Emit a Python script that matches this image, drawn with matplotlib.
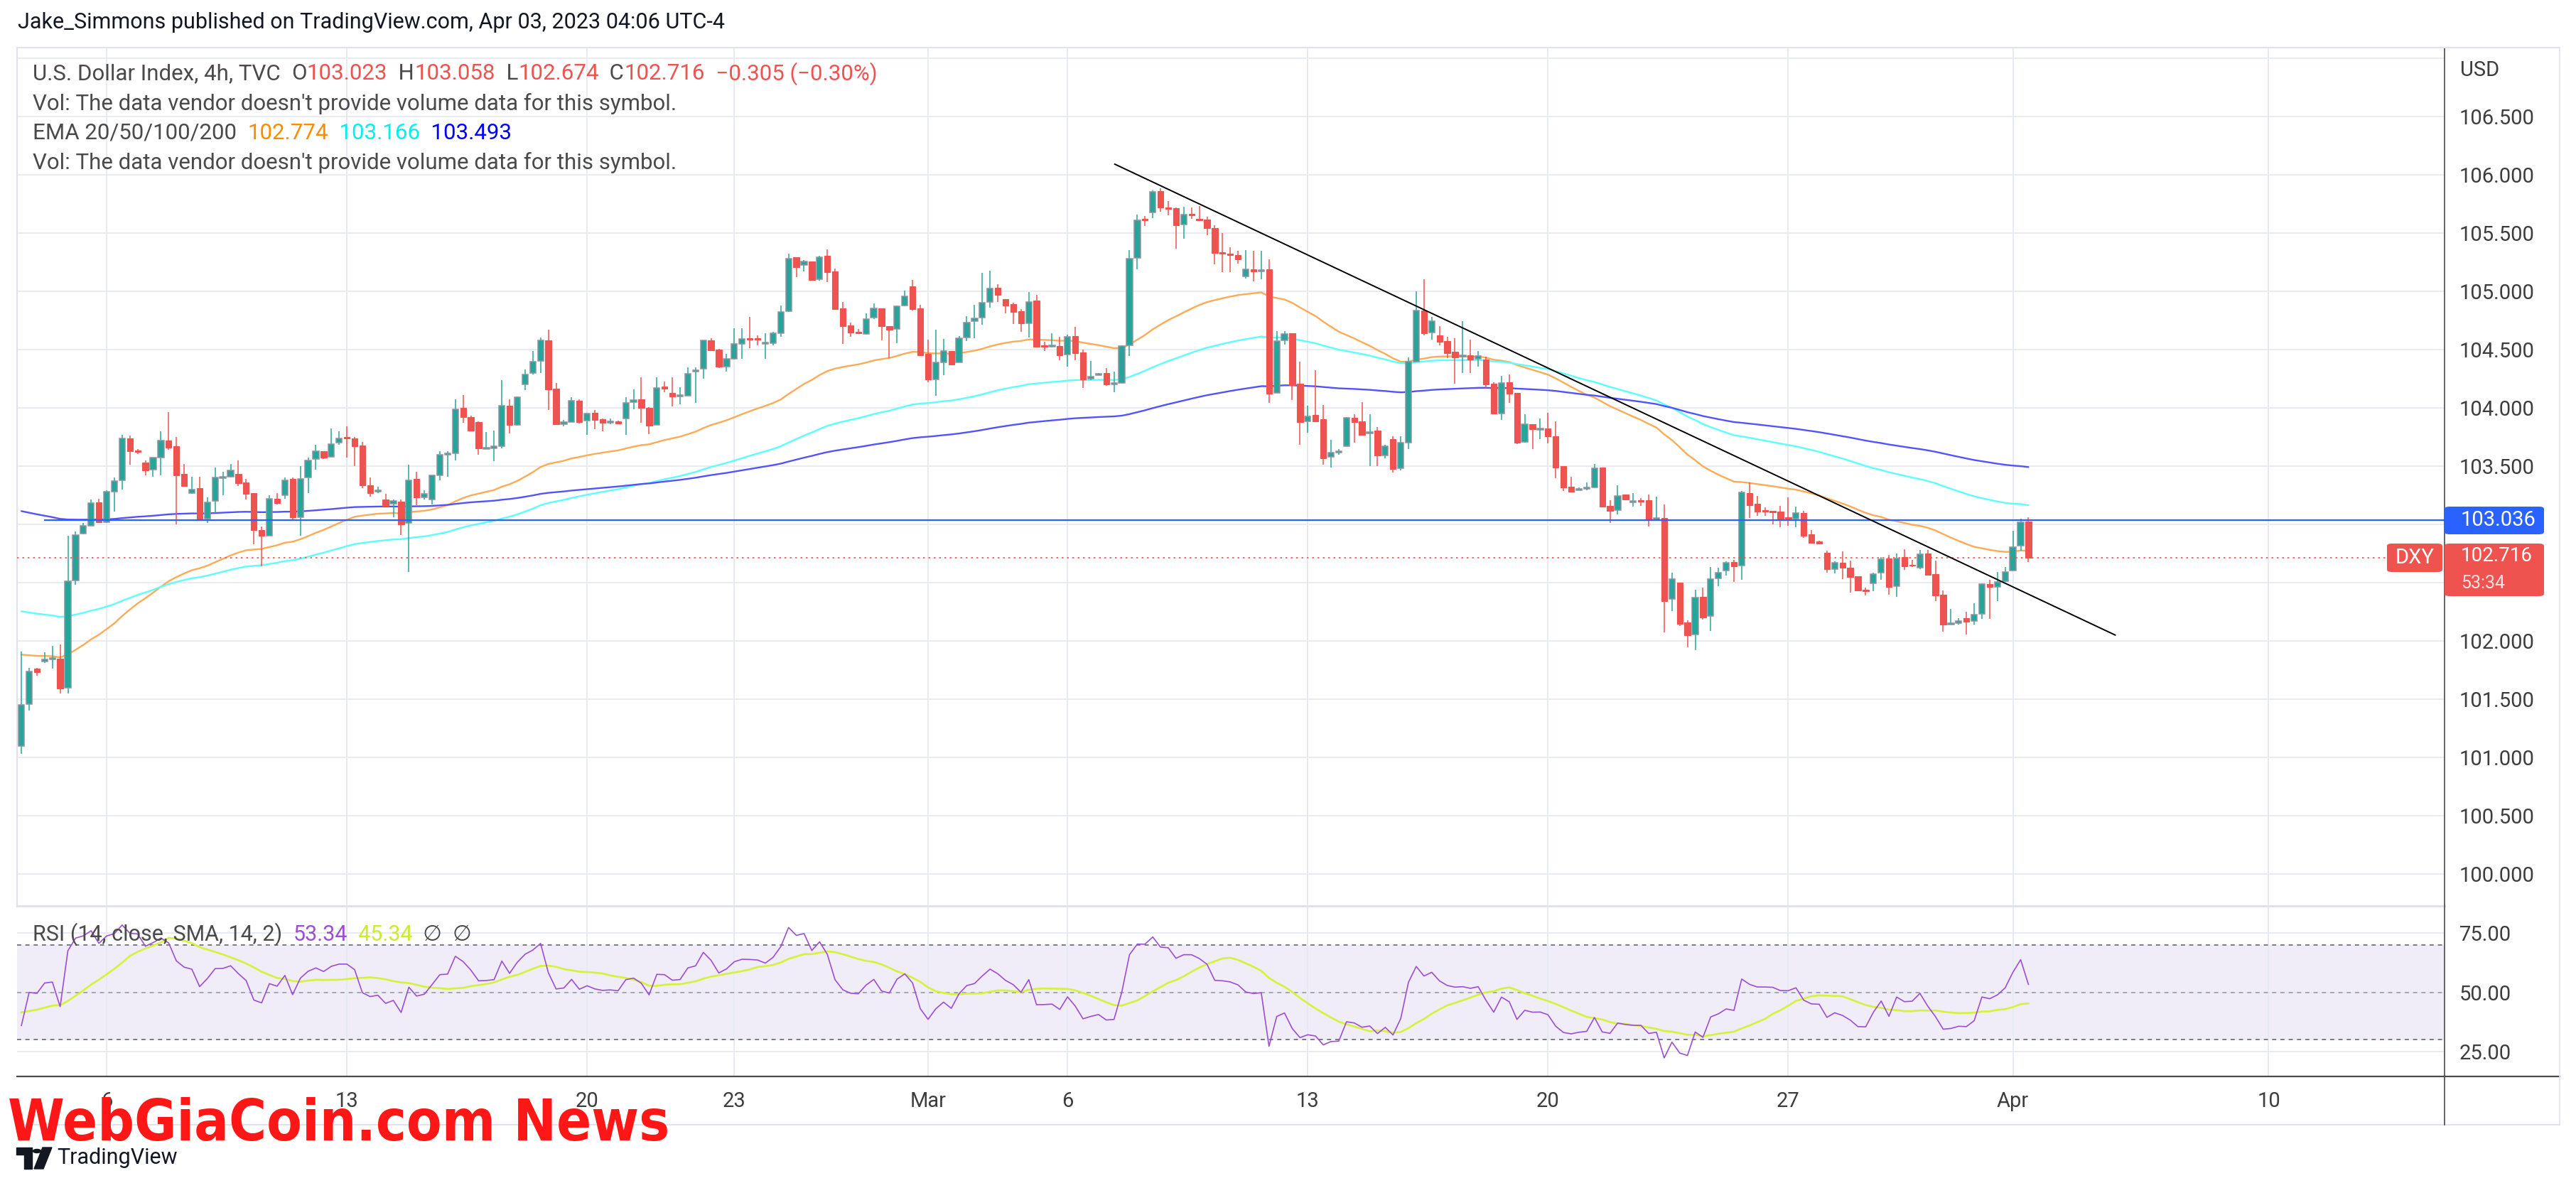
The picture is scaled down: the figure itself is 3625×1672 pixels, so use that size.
import numpy as np
import pandas as pd
import matplotlib
matplotlib.use("Agg")
import matplotlib.pyplot as plt
from matplotlib.lines import Line2D
from matplotlib.patches import FancyBboxPatch, Polygon, Circle
from matplotlib import font_manager

plt.rcParams['font.family'] = ['Roboto', 'DejaVu Sans']

# ---- DXY 4h candles, bar 0 ~ Feb 2, bar 259 = Apr 3 ----
opens = [
    101.10, 101.46, 101.76, 101.82, 101.84, 101.85, 101.60, 102.52, 102.92, 102.99,
    103.19, 103.02, 103.28, 103.38, 103.74, 103.635, 103.53, 103.47, 103.57, 103.72,
    103.67, 103.43, 103.27, 103.31, 103.05, 103.20, 103.395, 103.405, 103.43, 103.36,
    103.27, 102.95, 102.90, 103.22, 103.25, 103.39, 103.06, 103.40, 103.56, 103.63,
    103.58, 103.70, 103.75, 103.74, 103.675, 103.335, 103.285, 103.215, 103.175, 103.195,
    103.01, 103.39, 103.23, 103.215, 103.42, 103.60, 103.61, 104.00, 103.92, 103.88,
    103.65, 103.65, 103.67, 104.02, 103.855, 104.20, 104.295, 104.40, 104.58, 104.165,
    103.86, 103.88, 104.06, 103.89, 103.955, 103.90, 103.875, 103.885, 103.91, 104.05,
    104.07, 104.00, 103.85, 104.18, 104.125, 104.10, 104.105, 104.31, 104.335, 104.58,
    104.50, 104.355, 104.42, 104.55, 104.598, 104.598, 104.553, 104.557, 104.642, 104.827,
    105.29, 105.224, 105.258, 105.10, 105.304, 105.168, 104.854, 104.706, 104.651, 104.635,
    104.771, 104.854, 104.702, 104.673, 104.876, 105.04, 104.852, 104.462, 104.245, 104.387,
    104.485, 104.391, 104.60, 104.746, 104.773, 104.905, 105.03, 104.935, 104.888, 104.83,
    104.726, 104.919, 104.529, 104.531, 104.529, 104.454, 104.615, 104.473, 104.25, 104.284,
    104.296, 104.203, 104.211, 104.533, 105.286, 105.621, 105.675, 105.856, 105.72, 105.71,
    105.57, 105.661, 105.621, 105.615, 105.54, 105.335, 105.325, 105.313, 105.126, 105.191,
    105.175, 105.187, 104.13, 104.577, 104.638, 104.205, 103.882, 103.937, 103.90, 103.577,
    103.618, 103.673, 103.911, 103.886, 103.782, 103.805, 103.591, 103.734, 103.484, 103.703,
    104.398, 104.837, 104.648, 104.624, 104.571, 104.48, 104.443, 104.449, 104.419, 104.415,
    104.205, 103.951, 104.221, 104.126, 103.707, 103.86, 103.815, 103.825, 103.758, 103.50,
    103.321, 103.297, 103.31, 103.317, 103.49, 103.159, 103.124, 103.256, 103.195, 103.207,
    103.207, 103.045, 103.055, 102.359, 102.50, 102.158, 102.056, 102.379, 102.213, 102.538,
    102.604, 102.675, 102.649, 103.268, 103.177, 103.12, 103.112, 103.11, 103.055, 103.051,
    103.099, 102.913, 102.852, 102.756, 102.618, 102.673, 102.629, 102.553, 102.436, 102.491,
    102.588, 102.71, 102.472, 102.72, 102.653, 102.625, 102.75, 102.572, 102.395, 102.148,
    102.15, 102.196, 102.172, 102.233, 102.486, 102.466, 102.513, 102.602, 102.815, 103.023,
]
highs = [
    101.91, 101.77, 101.77, 101.90, 101.96, 101.97, 102.90, 102.94, 103.01, 103.21,
    103.22, 103.29, 103.40, 103.77, 103.76, 103.645, 103.55, 103.57, 103.80, 103.96,
    103.75, 103.52, 103.41, 103.405, 103.23, 103.49, 103.45, 103.52, 103.55, 103.39,
    103.27, 102.98, 103.25, 103.27, 103.40, 103.40, 103.50, 103.57, 103.68, 103.63,
    103.82, 103.80, 103.84, 103.75, 103.705, 103.40, 103.32, 103.26, 103.215, 103.21,
    103.51, 103.45, 103.29, 103.42, 103.63, 103.63, 104.07, 104.11, 103.93, 103.885,
    103.79, 103.805, 104.24, 104.075, 104.095, 104.33, 104.485, 104.60, 104.67, 104.21,
    103.895, 104.09, 104.07, 103.955, 103.98, 103.91, 103.905, 103.89, 104.09, 104.16,
    104.26, 104.005, 104.26, 104.225, 104.26, 104.175, 104.345, 104.345, 104.58, 104.595,
    104.505, 104.465, 104.68, 104.68, 104.78, 104.62, 104.64, 104.65, 104.876, 105.32,
    105.293, 105.268, 105.258, 105.303, 105.357, 105.193, 104.909, 104.73, 104.675, 104.811,
    104.897, 104.854, 104.702, 104.876, 105.006, 105.097, 104.884, 104.584, 104.671, 104.59,
    104.485, 104.615, 104.783, 104.884, 105.158, 105.178, 105.063, 104.935, 104.90, 104.844,
    104.996, 104.966, 104.566, 104.637, 104.608, 104.625, 104.696, 104.50, 104.40, 104.30,
    104.34, 104.312, 104.535, 105.351, 105.655, 105.645, 105.862, 105.882, 105.773, 105.716,
    105.722, 105.72, 105.73, 105.639, 105.564, 105.499, 105.377, 105.346, 105.354, 105.346,
    105.346, 105.272, 104.659, 104.659, 104.638, 104.394, 104.018, 104.323, 104.024, 103.724,
    103.648, 103.923, 103.947, 104.049, 103.947, 103.835, 103.683, 103.758, 103.754, 104.431,
    105.00, 105.102, 104.78, 104.699, 104.608, 104.598, 104.744, 104.587, 104.486, 104.439,
    104.221, 104.276, 104.283, 104.126, 103.947, 103.86, 103.907, 103.957, 103.882, 103.50,
    103.409, 103.317, 103.358, 103.516, 103.49, 103.205, 103.337, 103.256, 103.266, 103.227,
    103.258, 103.237, 103.17, 102.584, 102.50, 102.178, 102.44, 102.456, 102.633, 102.629,
    102.685, 102.696, 103.288, 103.359, 103.242, 103.146, 103.112, 103.156, 103.231, 103.152,
    103.116, 102.949, 102.862, 102.771, 102.683, 102.765, 102.689, 102.553, 102.456, 102.588,
    102.72, 102.74, 102.75, 102.785, 102.693, 102.781, 102.781, 102.689, 102.432, 102.273,
    102.196, 102.249, 102.324, 102.491, 102.523, 102.594, 102.633, 102.943, 103.049, 103.058,
]
lows = [
    101.03, 101.40, 101.70, 101.81, 101.76, 101.55, 101.55, 102.48, 102.915, 102.99,
    103.01, 103.01, 103.11, 103.30, 103.51, 103.605, 103.42, 103.405, 103.42, 103.64,
    103.00, 103.32, 103.26, 103.03, 103.01, 103.10, 103.25, 103.40, 103.33, 103.21,
    102.83, 102.64, 102.90, 103.17, 103.22, 103.04, 102.90, 103.27, 103.47, 103.56,
    103.58, 103.68, 103.57, 103.50, 103.31, 103.24, 103.27, 103.16, 103.06, 102.91,
    102.59, 103.165, 103.21, 103.17, 103.38, 103.41, 103.55, 103.87, 103.80, 103.60,
    103.645, 103.54, 103.65, 103.78, 103.845, 104.15, 104.285, 104.295, 103.98, 103.86,
    103.84, 103.88, 103.865, 103.765, 103.815, 103.80, 103.86, 103.86, 103.765, 103.99,
    103.87, 103.775, 103.85, 104.135, 104.01, 104.03, 104.10, 104.04, 104.25, 104.495,
    104.34, 104.31, 104.415, 104.42, 104.51, 104.537, 104.42, 104.537, 104.608, 104.825,
    105.122, 105.167, 105.095, 105.09, 105.081, 104.844, 104.55, 104.61, 104.637, 104.625,
    104.763, 104.58, 104.424, 104.556, 104.872, 104.834, 104.442, 104.221, 104.103, 104.28,
    104.367, 104.391, 104.57, 104.596, 104.712, 104.86, 104.905, 104.809, 104.716, 104.649,
    104.604, 104.525, 104.489, 104.52, 104.406, 104.353, 104.406, 104.17, 104.239, 104.28,
    104.189, 104.134, 104.205, 104.442, 105.185, 105.56, 105.629, 105.68, 105.651, 105.367,
    105.452, 105.62, 105.609, 105.483, 105.233, 105.162, 105.162, 105.238, 105.11, 105.085,
    105.10, 104.043, 104.13, 104.54, 104.069, 103.683, 103.785, 103.886, 103.51, 103.49,
    103.60, 103.673, 103.699, 103.768, 103.50, 103.50, 103.567, 103.445, 103.463, 103.646,
    104.398, 104.622, 104.587, 104.537, 104.425, 104.207, 104.297, 104.297, 104.354, 104.171,
    103.951, 103.896, 104.043, 103.687, 103.703, 103.646, 103.734, 103.693, 103.394, 103.287,
    103.276, 103.293, 103.293, 103.313, 103.154, 103.012, 103.083, 103.205, 103.154, 103.156,
    102.984, 103.035, 102.07, 102.253, 102.127, 101.943, 101.918, 102.182, 102.085, 102.472,
    102.558, 102.507, 102.527, 103.055, 103.071, 103.071, 102.998, 102.978, 102.99, 102.978,
    102.882, 102.832, 102.832, 102.588, 102.578, 102.533, 102.415, 102.426, 102.389, 102.426,
    102.523, 102.399, 102.375, 102.608, 102.633, 102.618, 102.558, 102.344, 102.081, 102.141,
    102.141, 102.054, 102.141, 102.188, 102.188, 102.344, 102.507, 102.602, 102.775, 102.674,
]
closes = [
    101.45, 101.74, 101.73, 101.84, 101.85, 101.59, 102.51, 102.91, 102.99, 103.185,
    103.02, 103.28, 103.37, 103.74, 103.63, 103.62, 103.46, 103.57, 103.72, 103.66,
    103.42, 103.33, 103.30, 103.035, 103.19, 103.40, 103.405, 103.46, 103.355, 103.26,
    102.95, 102.90, 103.22, 103.18, 103.38, 103.06, 103.39, 103.55, 103.63, 103.575,
    103.69, 103.74, 103.74, 103.67, 103.335, 103.27, 103.29, 103.16, 103.20, 103.00,
    103.38, 103.23, 103.26, 103.42, 103.60, 103.61, 103.99, 103.92, 103.805, 103.65,
    103.655, 103.67, 104.02, 103.855, 104.09, 104.285, 104.395, 104.58, 104.16, 103.86,
    103.88, 104.06, 103.88, 103.95, 103.895, 103.87, 103.878, 103.865, 104.04, 104.065,
    104.00, 103.845, 104.17, 104.165, 104.095, 104.105, 104.29, 104.325, 104.58, 104.495,
    104.35, 104.42, 104.545, 104.59, 104.588, 104.583, 104.556, 104.64, 104.82, 105.28,
    105.207, 105.254, 105.095, 105.293, 105.164, 104.848, 104.698, 104.645, 104.637, 104.763,
    104.85, 104.698, 104.669, 104.87, 104.955, 104.844, 104.452, 104.241, 104.387, 104.485,
    104.373, 104.594, 104.732, 104.767, 104.899, 105.026, 104.966, 104.88, 104.824, 104.722,
    104.909, 104.525, 104.527, 104.533, 104.448, 104.61, 104.467, 104.241, 104.27, 104.292,
    104.199, 104.205, 104.529, 105.28, 105.609, 105.609, 105.854, 105.716, 105.706, 105.564,
    105.655, 105.655, 105.609, 105.54, 105.331, 105.325, 105.31, 105.274, 105.187, 105.167,
    105.177, 104.12, 104.573, 104.634, 104.195, 103.88, 103.927, 103.886, 103.567, 103.616,
    103.622, 103.911, 103.88, 103.768, 103.785, 103.591, 103.673, 103.476, 103.703, 104.398,
    104.837, 104.638, 104.744, 104.567, 104.47, 104.435, 104.445, 104.415, 104.445, 104.201,
    103.951, 104.215, 104.12, 103.699, 103.86, 103.815, 103.817, 103.758, 103.486, 103.317,
    103.28, 103.30, 103.311, 103.48, 103.154, 103.118, 103.246, 103.215, 103.197, 103.197,
    103.039, 103.051, 102.344, 102.533, 102.148, 102.046, 102.371, 102.202, 102.533, 102.588,
    102.673, 102.639, 103.272, 103.166, 103.112, 103.112, 103.106, 103.051, 103.049, 103.095,
    102.903, 102.842, 102.836, 102.614, 102.669, 102.625, 102.547, 102.43, 102.426, 102.574,
    102.70, 102.466, 102.71, 102.639, 102.645, 102.744, 102.564, 102.389, 102.141, 102.149,
    102.172, 102.166, 102.223, 102.486, 102.462, 102.507, 102.592, 102.805, 103.018, 102.716,
]

# x axis: bar index of each date gridline
date_ticks = [11, 42, 73, 92, 117, 135, 166, 197, 228, 257, 290]
date_labels = ['6', '13', '20', '23', 'Mar', '6', '13', '20', '27', 'Apr', '10']

price_ticks = [100.0, 100.5, 101.0, 101.5, 102.0, 102.5, 103.0, 103.5,
               104.0, 104.5, 105.0, 105.5, 106.0, 106.5, 107.0]
price_labels = ['100.000', '100.500', '101.000', '101.500', '102.000', '102.500',
                '103.000', '103.500', '104.000', '104.500', '105.000', '105.500',
                '106.000', '106.500', '']

# EMAs: periods, value just before bar 0, colours
ema_periods = [50, 100, 200]
ema_seeds = [101.90, 102.27, 103.13]
ema_colors = ['#FFAA55', '#5CFFFF', '#5252FF']

# RSI(14) smoothing state before bar 0 and SMA(14) history
rsi_seed_gain = 0.004
rsi_seed_loss = 0.055
rsi_ma_seed = 42.0
rsi_ticks = [25, 50, 75]
rsi_labels = ['25.00', '50.00', '75.00']

# drawings
level_price = 103.036
level_start = 3
trend_x = [141.1, 270.2]
trend_y = [106.09, 102.05]
last_price = 102.716
countdown = '53:34'

GREEN = '#26A69A'
RED = '#EF5350'
BORDER = '#8F939E'
GRID = '#E6EBF1'
AXTXT = '#3D3D3D'

W_PX, H_PX = 3625, 1672


def fx(px):
    return px / W_PX


def fy(py):
    return 1 - py / H_PX


fig = plt.figure(figsize=(W_PX / 100, H_PX / 100), dpi=100)
fig.patch.set_facecolor('white')

pane_l, pane_r = 24, 3440
ax = fig.add_axes([fx(pane_l), fy(1275), fx(pane_r) - fx(pane_l), fy(67) - fy(1275)])
ax2 = fig.add_axes([fx(pane_l), fy(1515), fx(pane_r) - fx(pane_l), fy(1275) - fy(1515)])

xlim = (-0.56, 312.7)
o = np.array(opens)
h = np.array(highs)
l = np.array(lows)
c = np.array(closes)
x = np.arange(len(c))

# ---- main pane ----
ax.set_xlim(*xlim)
ax.set_ylim(99.726, 107.09)
for sp in ['right', 'bottom']:
    ax.spines[sp].set_visible(False)
for sp in ['top', 'left']:
    ax.spines[sp].set_color('#E0E3EB')
    ax.spines[sp].set_linewidth(1.5)
ax.set_xticks(date_ticks)
ax.set_xticklabels([])
ax.tick_params(axis='x', length=0)
ax.yaxis.tick_right()
ax.set_yticks(price_ticks)
ax.set_yticklabels(price_labels)
ax.tick_params(axis='y', length=0, pad=15, labelsize=21, labelcolor=AXTXT)
ax.grid(True, color=GRID, lw=1.3)
ax.set_axisbelow(True)

# EMAs
for per, seed, col in zip(ema_periods, ema_seeds, ema_colors):
    alpha = 2.0 / (per + 1)
    vals = []
    prev = seed
    for v in c:
        prev = alpha * v + (1 - alpha) * prev
        vals.append(prev)
    ax.plot(x, vals, color=col, lw=1.7, zorder=2, solid_capstyle='round')

# candles
up = c >= o
body_h = np.maximum(np.abs(c - o), 0.012)
body_mid = (o + c) / 2
body_lo = body_mid - body_h / 2
ax.vlines(x[up], l[up], h[up], color=GREEN, lw=1.1, zorder=3)
ax.vlines(x[~up], l[~up], h[~up], color=RED, lw=1.1, zorder=3)
ax.bar(x[up], body_h[up], bottom=body_lo[up], width=0.76, color=GREEN,
       edgecolor=BORDER, linewidth=1.1, zorder=4)
ax.bar(x[~up], body_h[~up], bottom=body_lo[~up], width=0.76, color=RED,
       edgecolor=RED, linewidth=0.8, zorder=4)

# drawings
ax.plot([level_start, xlim[1]], [level_price, level_price], color='#2962FF', lw=1.6, zorder=6)
ax.plot(trend_x, trend_y, color='black', lw=1.4, zorder=6)
ax.plot([xlim[0], 306.5], [last_price, last_price], color=RED, lw=1.2,
        ls=(0, (1.5, 3)), zorder=5)

# ---- RSI pane ----
prev_close = np.concatenate([[o[0]], c[:-1]])
diff = c - prev_close
ag, al = rsi_seed_gain, rsi_seed_loss
rsi = []
for d in diff:
    ag = (ag * 13 + max(d, 0)) / 14
    al = (al * 13 + max(-d, 0)) / 14
    rsi.append(100 - 100 / (1 + ag / al))
rsi_ma = pd.Series([rsi_ma_seed] * 13 + rsi).rolling(14).mean().to_numpy()[13:]

ax2.set_xlim(*xlim)
ax2.set_ylim(14.5, 86.5)
ax2.axhspan(30, 70, color='#F0ECF8', zorder=0)
ax2.axhline(70, color='#787B86', lw=1.4, ls=(0, (3, 3)), zorder=1)
ax2.axhline(50, color='#A3A6AF', lw=1.4, ls=(0, (3, 3)), zorder=1)
ax2.axhline(30, color='#787B86', lw=1.4, ls=(0, (3, 3)), zorder=1)
ax2.plot(x, rsi, color='#9C4FD3', lw=1.2, zorder=3)
ax2.plot(x, rsi_ma, color='#D6F23A', lw=1.9, zorder=2)
for sp in ['right', 'bottom', 'left']:
    ax2.spines[sp].set_visible(False)
ax2.spines['top'].set_color('#E0E3EB')
ax2.spines['top'].set_linewidth(2.2)
ax2.yaxis.tick_right()
ax2.set_yticks(rsi_ticks)
ax2.set_yticklabels(rsi_labels)
ax2.tick_params(axis='y', length=0, pad=15, labelsize=21, labelcolor=AXTXT)
ax2.set_xticks(date_ticks)
ax2.set_xticklabels(date_labels)
ax2.tick_params(axis='x', length=0, pad=15, labelsize=21, labelcolor=AXTXT)
ax2.grid(True, color=GRID, lw=1.3)
ax2.set_axisbelow(True)

# frame lines
fig.add_artist(Line2D([fx(pane_l), fx(3602)], [fy(1515), fy(1515)], color='#4A4A4A', lw=1.6))
fig.add_artist(Line2D([fx(pane_l), fx(3602)], [fy(1583), fy(1583)], color='#E0E3EB', lw=1.5))
fig.add_artist(Line2D([fx(pane_r), fx(pane_r)], [fy(67), fy(1583)], color='#4A4A4A', lw=1.2))
fig.add_artist(Line2D([fx(3602), fx(3602)], [fy(67), fy(1583)], color='#E0E3EB', lw=1.2))
fig.add_artist(Line2D([fx(pane_r), fx(3602)], [fy(67), fy(67)], color='#E0E3EB', lw=1.5))

# ---- price scale labels ----
fig.text(fx(3462), fy(99), 'USD', fontsize=21, color=AXTXT, va='center', ha='left')


def price_box(y0, y1, col, x0=3440, x1=3580):
    fig.add_artist(FancyBboxPatch((fx(x0), fy(y1)), fx(x1) - fx(x0), fy(y0) - fy(y1),
                                  boxstyle='round,pad=0,rounding_size=0.002',
                                  transform=fig.transFigure, facecolor=col,
                                  edgecolor='none', zorder=5))


price_box(713, 752, '#2962FF')
fig.text(fx(3463), fy(732), f'{level_price:.3f}', fontsize=21, color='white',
         va='center', ha='left', zorder=6)
price_box(765, 839, RED)
fig.text(fx(3463), fy(783), f'{last_price:.3f}', fontsize=20, color='white',
         va='center', ha='left', zorder=6)
fig.text(fx(3463), fy(821), countdown, fontsize=18, color='#FFE3E3',
         va='center', ha='left', zorder=6)
price_box(765, 805, RED, 3359, 3437)
fig.text(fx(3398), fy(785), 'DXY', fontsize=21, color='white',
         va='center', ha='center', zorder=6)

# ---- header and legends ----
renderer = fig.canvas.get_renderer()


def text_run(x_px, y_px, pieces, size):
    for s, col in pieces:
        t = fig.text(fx(x_px), fy(y_px), s, fontsize=size, color=col, va='center', ha='left')
        x_px += t.get_window_extent(renderer).width


fig.text(fx(25), fy(31), 'Jake_Simmons published on TradingView.com, Apr 03, 2023 04:06 UTC-4',
         fontsize=22, color='#131722', va='center', ha='left')

LEG = '#4A4A4A'
LSZ = 22.5
text_run(46, 104, [('U.S. Dollar Index, 4h, TVC  ', LEG), ('O', LEG), ('103.023', RED),
                   ('  H', LEG), ('103.058', RED), ('  L', LEG), ('102.674', RED),
                   ('  C', LEG), ('102.716', RED), ('  \u22120.305 (\u22120.30%)', RED)], LSZ)
vol_text = "Vol: The data vendor doesn't provide volume data for this symbol."
text_run(46, 146, [(vol_text, LEG)], LSZ)
text_run(46, 187, [('EMA 20/50/100/200  ', LEG), ('102.774', '#FF8C00'),
                   ('  103.166', '#00F0F0'), ('  103.493', '#0000FF')], LSZ)
text_run(46, 229, [(vol_text, LEG)], LSZ)
text_run(46, 1315, [('RSI (14, close, SMA, 14, 2)  ', LEG), ('53.34', '#9C4FD3'),
                    ('  45.34', '#CFEA2E'), ('  \u2205  \u2205', LEG)], 22)

# ---- watermark and logo ----
avail = {f.name for f in font_manager.fontManager.ttflist}
if 'Liberation Sans Narrow' in avail:
    wm_font, wm_size, wm_stretch = 'Liberation Sans Narrow', 73, 'normal'
else:
    wm_font, wm_size, wm_stretch = 'DejaVu Sans', 58, 'condensed'
fig.text(fx(11), fy(1605), 'WebGiaCoin.com News', family=wm_font, fontsize=wm_size,
         fontweight='bold', fontstretch=wm_stretch, color='#FF1616',
         va='baseline', ha='left', zorder=10)

logo_col = '#131722'
fig.add_artist(Polygon([(fx(23), fy(1615)), (fx(45), fy(1615)), (fx(45), fy(1645)),
                        (fx(34), fy(1645)), (fx(34), fy(1625)), (fx(23), fy(1625))],
                       closed=True, transform=fig.transFigure, color=logo_col, zorder=10))
fig.add_artist(Circle((fx(52), fy(1620)), 5.5 / W_PX, transform=fig.transFigure,
                      color=logo_col, zorder=10))
fig.add_artist(Polygon([(fx(60), fy(1615)), (fx(73), fy(1615)), (fx(61), fy(1645)),
                        (fx(48), fy(1645))], closed=True, transform=fig.transFigure,
                       color=logo_col, zorder=10))
fig.text(fx(80), fy(1630), 'TradingView', fontsize=22, color=logo_col,
         va='center', ha='left', zorder=10)

fig.savefig('out.png', dpi=100, facecolor='white')
